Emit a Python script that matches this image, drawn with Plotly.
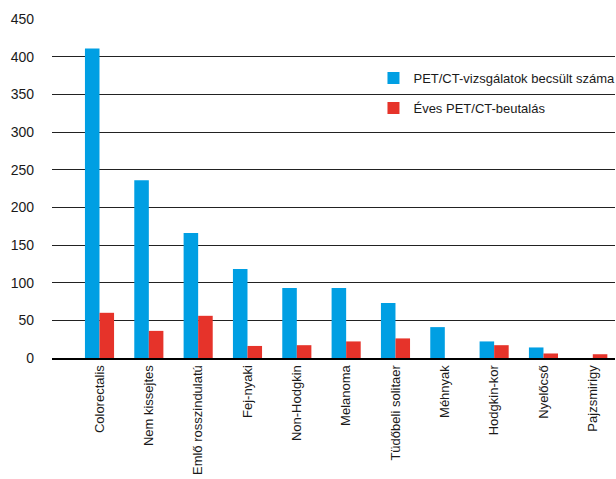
import plotly.graph_objects as go

categories = ["Colorectalis", "Nem kissejtes", "Emlő rosszindulatú", "Fej-nyaki", "Non-Hodgkin",
              "Melanoma", "Tüdőbeli solitaer", "Méhnyak", "Hodgkin-kor", "Nyelőcső", "Pajzsmirigy"]
becsult = [411, 236, 166, 118, 93, 93, 73, 41, 22, 14, 0]
eves = [60, 36, 56, 16, 17, 22, 26, 0, 17, 6, 5]
y_ticks = [0, 50, 100, 150, 200, 250, 300, 350, 400, 450]

FONT = "Liberation Sans, Arial, sans-serif"

fig = go.Figure()
fig.add_trace(go.Bar(x=categories, y=becsult, name="PET/CT-vizsgálatok becsült száma",
                     marker=dict(color="#009FE3", line=dict(width=0)), legendgroup="a"))
fig.add_trace(go.Bar(x=categories, y=eves, name="Éves PET/CT-beutalás",
                     marker=dict(color="#E6332A", line=dict(width=0)), legendgroup="b"))

# white patch that interrupts the gridline behind the legend (as in the original)
fig.add_shape(type="rect", xref="paper", yref="y", x0=0.545, x1=1.0, y0=338, y1=362,
              fillcolor="white", line=dict(width=0), layer="between")

fig.update_layout(
    width=616, height=479,
    margin=dict(l=52, r=1, t=19, b=121, autoexpand=False),
    paper_bgcolor="white", plot_bgcolor="white",
    barmode="group", bargap=0.41, bargroupgap=0,
    font=dict(family=FONT, size=13, color="#1a1a1a"),
    showlegend=True,
    legend=dict(x=0.571, y=0.87, xanchor="left", yanchor="top", bgcolor="rgba(0,0,0,0)",
                font=dict(size=13), traceorder="grouped", tracegroupgap=10,
                itemclick=False),
    xaxis=dict(type="category", range=[-0.963, 10.45], tickangle=-90, automargin=False,
               showline=True, linecolor="black", linewidth=2, ticks="", showgrid=False,
               tickfont=dict(size=13)),
    yaxis=dict(range=[0, 450], tickvals=y_ticks, showgrid=True, gridcolor="#222",
               gridwidth=1, zeroline=False, showline=False, ticks="", automargin=False,
               ticklabelstandoff=17, tickfont=dict(size=14)),
)

fig.write_html("out.html")
